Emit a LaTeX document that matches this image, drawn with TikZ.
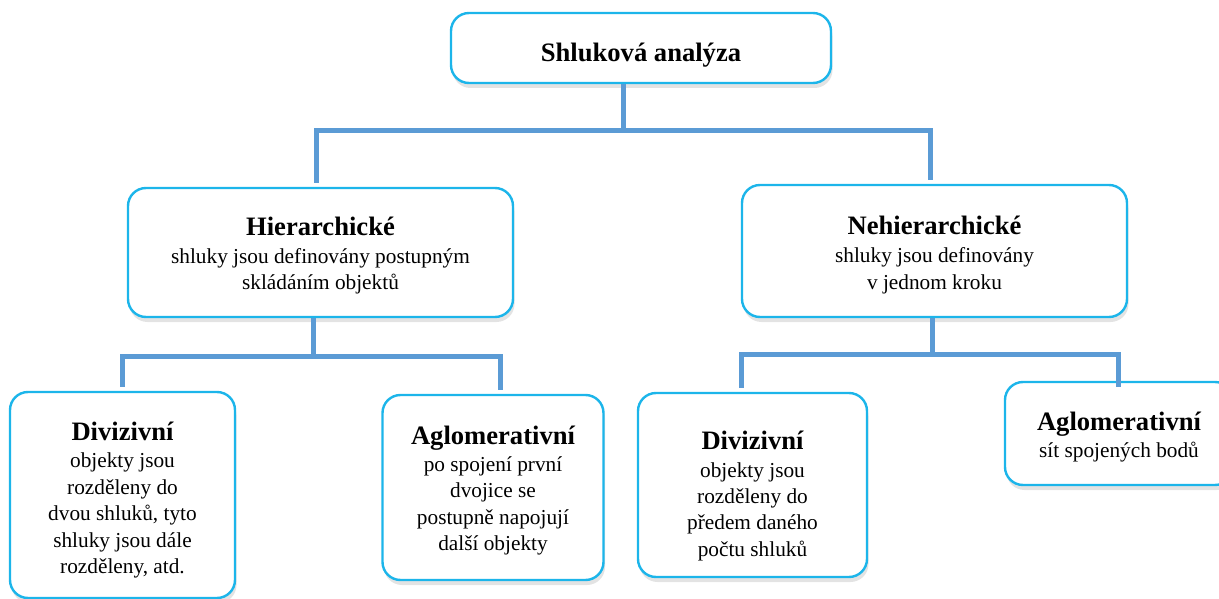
\documentclass[tikz,border=0pt]{standalone}
\usepackage{fontspec}
\setmainfont{Liberation Serif}
\usetikzlibrary{shadows}
\definecolor{boxline}{HTML}{1CB5EA}
\definecolor{connc}{HTML}{5B9BD5}
\tikzset{
  box/.style={draw=boxline, line width=2.4pt, rectangle, rounded corners=18pt, fill=white,
    inner sep=0pt,
    drop shadow={opacity=0.22, shadow xshift=1.5pt, shadow yshift=-5pt}},
  txt/.style={align=center, inner sep=0pt, font=\fontsize{21.3}{26.4}\selectfont},
  link/.style={draw=connc, line width=5pt, line join=miter},
}
\newcommand\ttl[1]{{\fontsize{26.6}{30}\selectfont\bfseries #1}}
\begin{document}
\begin{tikzpicture}[x=1pt,y=-1pt]
\useasboundingbox (0,0) rectangle (1219,599);
% boxes
\node[box, minimum width=380pt, minimum height=70pt] (top) at (641,48) {};
\node[box, minimum width=385pt, minimum height=129pt] (hier) at (320.5,252.5) {};
\node[box, minimum width=385pt, minimum height=132pt] (nonh) at (934.5,251) {};
\node[box, minimum width=225pt, minimum height=206pt] (div1) at (122.5,495) {};
\node[box, minimum width=221pt, minimum height=185pt] (agl1) at (493,487.5) {};
\node[box, minimum width=229pt, minimum height=184pt] (div2) at (752.5,485) {};
\node[box, minimum width=228pt, minimum height=103pt] (agl2) at (1119,433.5) {};
% texts
\node[txt] (topT) at ([yshift=-7pt]top.center) {\ttl{Shluková analýza}};
\node[txt] (hierT) at ([yshift=-3pt]hier.center)
  {\ttl{Hierarchické}\\[2pt] shluky jsou definovány postupným\\ skládáním objektů};
\node[txt] (nonhT) at ([yshift=-4pt]nonh.center)
  {\ttl{Nehierarchické}\\[2pt] shluky jsou definovány\\ v jednom kroku};
\node[txt] (div1T) at ([yshift=-5pt]div1.center)
  {\ttl{Divizivní}\\[1pt] objekty jsou\\ rozděleny do\\ dvou shluků, tyto\\ shluky jsou dále\\ rozděleny, atd.};
\node[txt] (agl1T) at ([yshift=-3pt]agl1.center)
  {\ttl{Aglomerativní}\\[1pt] po spojení první\\ dvojice se\\ postupně napojují\\ další objekty};
\node[txt] (div2T) at ([yshift=-11pt]div2.center)
  {\ttl{Divizivní}\\[1pt] objekty jsou\\ rozděleny do\\ předem daného\\ počtu shluků};
\node[txt] (agl2T) at ([yshift=-3.5pt]agl2.center)
  {\ttl{Aglomerativní}\\[1pt] sít spojených bodů};
% bus levels
\coordinate (bus1) at (0,131);
\coordinate (bus2) at (0,356);
\coordinate (bus3) at (0,354);
% level 1
\coordinate (t0) at ([xshift=-18pt]top.south);
\coordinate (h0) at ([xshift=-4.5pt,yshift=4pt]hier.north);
\coordinate (n0) at ([xshift=-4.5pt,yshift=4pt]nonh.north);
\draw[link] (t0) -- (t0 |- bus1);
\draw[link] (h0) |- (n0 |- bus1) -- (n0);
% level 2 left
\coordinate (h1) at ([xshift=-7.5pt]hier.south);
\coordinate (d1) at ([yshift=4pt]div1.north);
\coordinate (a1) at ([xshift=7pt,yshift=4pt]agl1.north);
\draw[link] (h1) -- (h1 |- bus2);
\draw[link] (d1) |- (a1 |- bus2) -- (a1);
% level 2 right
\coordinate (n1) at ([xshift=-2.5pt]nonh.south);
\coordinate (d2) at ([xshift=-11.5pt,yshift=4pt]div2.north);
\coordinate (a2) at ([xshift=-1pt,yshift=-6pt]agl2.north);
\draw[link] (n1) -- (n1 |- bus3);
\draw[link] (d2) |- (a2 |- bus3) -- (a2);
\end{tikzpicture}
\end{document}
